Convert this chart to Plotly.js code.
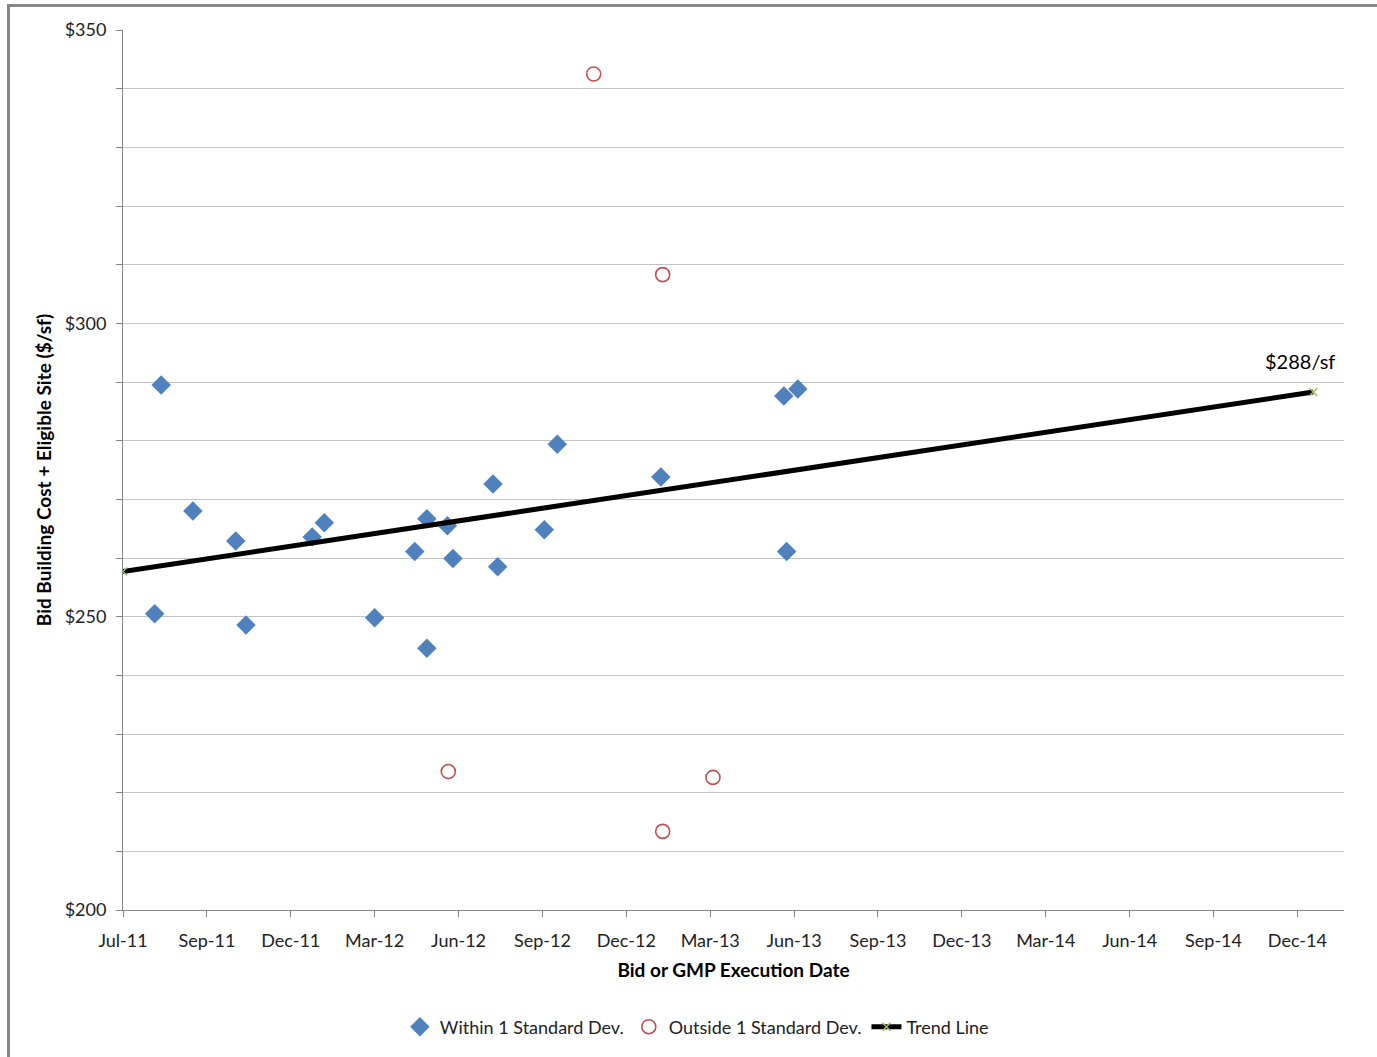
<!DOCTYPE html>
<html>
<head>
<meta charset="utf-8">
<script src="https://cdn.plot.ly/plotly-3.0.1.min.js"></script>
<style>
  html, body { margin: 0; padding: 0; background: #fff; }
  #chart { width: 1377px; height: 1057px; }
  #frame { position: absolute; left: 7px; top: 4px; width: 1420px; height: 1100px;
           border-left: 3px solid #878787; border-top: 3px solid #878787; pointer-events: none; }
</style>
</head>
<body>
<div id="chart"></div>
<div id="frame"></div>
<script>
// Within 1 standard deviation
const withinDates = ["2011-08-04","2011-08-11","2011-09-14","2011-10-30","2011-11-10",
  "2012-01-20","2012-02-02","2012-03-27","2012-05-09","2012-05-22","2012-05-22",
  "2012-06-13","2012-06-19","2012-08-01","2012-08-06","2012-09-25","2012-10-09",
  "2013-01-28","2013-06-09","2013-06-24","2013-06-12"];
const withinValues = [250.5, 289.5, 268.0, 262.9, 248.6,
  263.6, 266.0, 249.8, 261.1, 266.7, 244.6,
  265.5, 259.9, 272.6, 258.5, 264.8, 279.4,
  273.8, 287.6, 288.8, 261.1];

// Outside 1 standard deviation
const outsideDates = ["2012-11-17","2013-01-30","2012-06-14","2013-03-25","2013-01-30"];
const outsideValues = [342.5, 308.3, 223.6, 222.6, 213.4];

// Trend line endpoints
const trendDates = ["2011-07-01","2014-12-29"];
const trendValues = [257.7, 288.3];

// X tick positions (every 90 days) and labels
const xTickVals = ["2011-07-01","2011-09-29","2011-12-28","2012-03-27","2012-06-25",
  "2012-09-23","2012-12-22","2013-03-22","2013-06-20","2013-09-18","2013-12-17",
  "2014-03-17","2014-06-15","2014-09-13","2014-12-12"];
const xTickText = ["Jul-11","Sep-11","Dec-11","Mar-12","Jun-12","Sep-12","Dec-12",
  "Mar-13","Jun-13","Sep-13","Dec-13","Mar-14","Jun-14","Sep-14","Dec-14"];

const yTickVals = [200, 250, 300, 350];
const yTickText = ["$200","$250","$300","$350"];

const FONT = "Lato, 'Open Sans', sans-serif";

const traces = [
  {
    type: "scatter", mode: "markers", name: "Within 1 Standard Dev.",
    x: withinDates, y: withinValues,
    marker: { symbol: "diamond", size: 15, color: "#4f81bd", line: { width: 0 } }
  },
  {
    type: "scatter", mode: "markers", name: "Outside 1 Standard Dev.",
    x: outsideDates, y: outsideValues,
    marker: { symbol: "circle-open", size: 14, color: "#c0504d", line: { width: 1.6, color: "#c0504d" } }
  },
  {
    type: "scatter", mode: "lines+markers", name: "Trend Line",
    x: trendDates, y: trendValues,
    line: { color: "#000000", width: 5 },
    marker: { symbol: "x-thin", size: 8, color: "#9bbb59", line: { width: 1.5, color: "#9bbb59" } }
  }
];

const layout = {
  width: 1377, height: 1057,
  margin: { l: 123, r: 33, t: 30, b: 145 },
  paper_bgcolor: "#ffffff", plot_bgcolor: "#ffffff",
  font: { family: FONT, size: 18, color: "#222" },
  showlegend: true,
  legend: {
    orientation: "h", x: 0.47, xanchor: "center", y: -0.133, yanchor: "middle",
    font: { family: FONT, size: 18, color: "#222" }, traceorder: "normal",
    itemwidth: 30
  },
  xaxis: {
    type: "date",
    range: ["2011-07-01", "2015-01-31"],
    tickmode: "array", tickvals: xTickVals, ticktext: xTickText,
    ticks: "outside", ticklen: 6, tickcolor: "#868686", tickwidth: 1,
    showline: true, linecolor: "#868686", linewidth: 1,
    showgrid: false, zeroline: false,
    tickfont: { family: FONT, size: 18, color: "#222" },
    ticklabelstandoff: 8,
    title: { text: "<b>Bid or GMP Execution Date</b>", font: { family: FONT, size: 19, color: "#000" }, standoff: 14 }
  },
  yaxis: {
    range: [200, 350],
    tickmode: "array", tickvals: yTickVals, ticktext: yTickText,
    ticks: "outside", ticklen: 6, tickcolor: "#868686", tickwidth: 1,
    showline: true, linecolor: "#868686", linewidth: 1,
    showgrid: true, gridcolor: "#c4c4c4", gridwidth: 1,
    zeroline: false,
    minor: { dtick: 10, tick0: 200, ticks: "outside", ticklen: 6, tickcolor: "#868686",
             showgrid: true, gridcolor: "#c4c4c4", gridwidth: 1 },
    tickfont: { family: FONT, size: 18, color: "#222" },
    ticklabelstandoff: 6,
    title: { text: "<b>Bid Building Cost + Eligible Site ($/sf)</b>", font: { family: FONT, size: 19, color: "#000" }, standoff: 7 }
  },
  annotations: [
    {
      xref: "x", yref: "y", x: trendDates[1], y: trendValues[1],
      text: "$" + Math.round(trendValues[1]) + "/sf", showarrow: false,
      xanchor: "right", yanchor: "bottom", xshift: 24, yshift: 17,
      font: { family: FONT, size: 20, color: "#000" }
    }
  ]
};

Plotly.newPlot("chart", traces, layout, { displayModeBar: false, staticPlot: true });
</script>
</body>
</html>
